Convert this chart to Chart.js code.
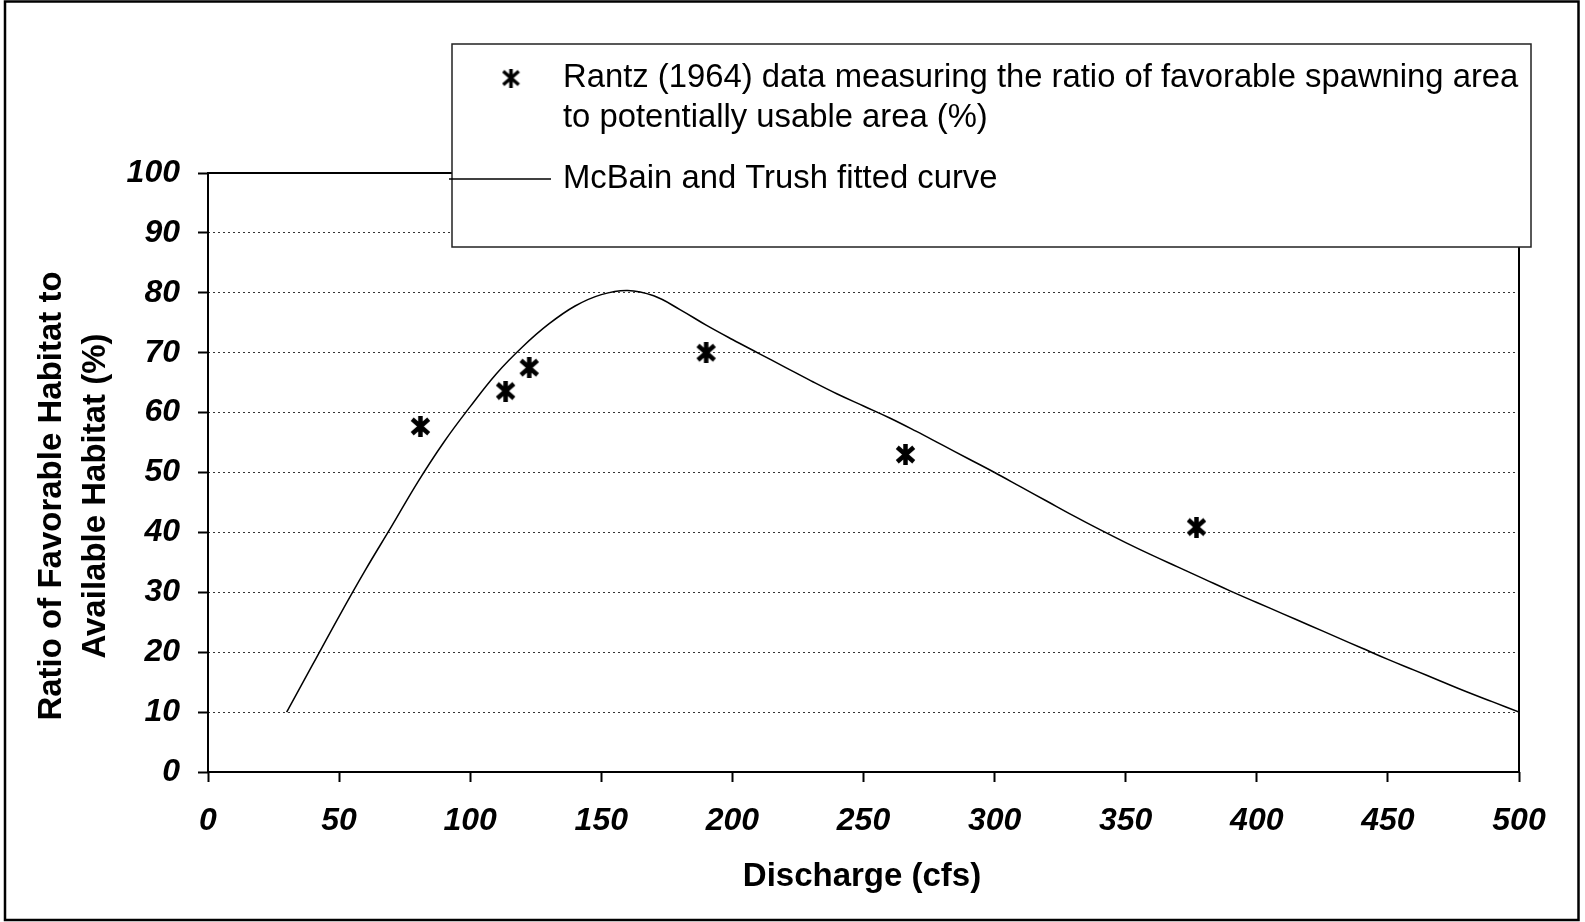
<!DOCTYPE html>
<html>
<head>
<meta charset="utf-8">
<title>Favorable habitat vs discharge</title>
<script src="https://cdn.jsdelivr.net/npm/chart.js@4.4.0/dist/chart.umd.min.js"></script>
<style>
  html, body { margin: 0; padding: 0; background: #fff; }
  #wrap { width: 1585px; height: 922px; }
</style>
</head>
<body>
<div id="wrap"><canvas id="habitatChart" width="1585" height="922"></canvas></div>
<script>
// Rantz (1964) measured points
const rantzDischarge = [81, 113.5, 122.5, 190, 266, 377];
const rantzRatio = [57.7, 63.6, 67.5, 70, 53, 40.9];

// McBain and Trush fitted curve (every 10 cfs)
const curveDischarge = [30, 40, 50, 60, 70, 80, 90, 100, 110, 120, 130, 140, 150, 160, 170, 180, 190, 200, 210, 220, 230, 240, 250, 260, 270, 280, 290, 300, 310, 320, 330, 340, 350, 360, 370, 380, 390, 400, 410, 420, 430, 440, 450, 460, 470, 480, 490, 500];
const curveRatio = [10, 18, 26, 33.7, 41, 48.4, 55.1, 61, 66.5, 71, 74.8, 77.8, 79.7, 80.4, 79.5, 77.2, 74.6, 72.2, 69.9, 67.6, 65.3, 63.1, 61.1, 59.1, 56.9, 54.6, 52.3, 50, 47.6, 45.2, 42.8, 40.5, 38.3, 36.2, 34.2, 32.2, 30.2, 28.3, 26.4, 24.5, 22.6, 20.7, 18.8, 17, 15.2, 13.4, 11.7, 10];

const xTickValues = [0, 50, 100, 150, 200, 250, 300, 350, 400, 450, 500];
const yTickValues = [0, 10, 20, 30, 40, 50, 60, 70, 80, 90, 100];

const xTitle = 'Discharge (cfs)';
const yTitle = ['Ratio of Favorable Habitat to', 'Available Habitat (%)'];
const legendLines = [
    'Rantz (1964) data measuring the ratio of favorable spawning area',
    'to potentially usable area (%)',
    'McBain and Trush fitted curve'
];

const FONT = '"Liberation Sans", Arial, sans-serif';

// asterisk marker: X plus a vertical bar
function makeStar(size, lw) {
    const c = document.createElement('canvas');
    c.width = size; c.height = size;
    const g = c.getContext('2d');
    const m = lw / 2;
    g.strokeStyle = '#000';
    g.lineWidth = lw;
    g.beginPath();
    g.moveTo(size / 2, 0); g.lineTo(size / 2, size);
    g.moveTo(m, m + 1); g.lineTo(size - m, size - m - 1);
    g.moveTo(m, size - m - 1); g.lineTo(size - m, m + 1);
    g.stroke();
    return c;
}
const plotStar = makeStar(21, 4.5);
const legendStar = makeStar(19, 3.5);

const decorations = {
    id: 'decorations',
    beforeDatasetsDraw(chart) {
        const { ctx, chartArea: a } = chart;
        ctx.save();
        ctx.strokeStyle = '#000';
        ctx.lineWidth = 2;
        ctx.strokeRect(a.left, a.top, a.right - a.left, a.bottom - a.top);
        ctx.restore();
    },
    afterDraw(chart) {
        const ctx = chart.ctx;
        ctx.save();

        // axis titles
        ctx.fillStyle = '#000';
        ctx.font = 'bold 33px ' + FONT;
        ctx.textAlign = 'center';
        ctx.textBaseline = 'middle';
        ctx.fillText(xTitle, 862, 877);
        ctx.save();
        ctx.translate(0, 496);
        ctx.rotate(-Math.PI / 2);
        ctx.fillText(yTitle[0], 0, 52);
        ctx.fillText(yTitle[1], 0, 96);
        ctx.restore();

        // legend box
        ctx.fillStyle = '#fff';
        ctx.fillRect(452, 44, 1079, 203);
        ctx.strokeStyle = '#222';
        ctx.lineWidth = 1.5;
        ctx.strokeRect(452, 44, 1079, 203);
        ctx.drawImage(legendStar, 511 - 9.5, 78 - 9.5);
        ctx.beginPath();
        ctx.moveTo(449, 179);
        ctx.lineTo(551, 179);
        ctx.strokeStyle = '#000';
        ctx.lineWidth = 1.5;
        ctx.stroke();
        ctx.fillStyle = '#000';
        ctx.font = '32.8px ' + FONT;
        ctx.textAlign = 'left';
        ctx.fillText(legendLines[0], 563, 78);
        ctx.fillText(legendLines[1], 563, 118);
        ctx.fillText(legendLines[2], 563, 179);

        // outer frame
        ctx.strokeStyle = '#000';
        ctx.lineWidth = 2.5;
        ctx.strokeRect(5, 1.5, 1573.5, 918.5);
        ctx.restore();
    }
};

const tickFont = { family: FONT, size: 32, weight: 'bold', style: 'italic' };

new Chart(document.getElementById('habitatChart'), {
    type: 'scatter',
    data: {
        datasets: [{
            label: legendLines[2],
            data: curveDischarge.map((x, i) => ({ x: x, y: curveRatio[i] })),
            showLine: true,
            borderColor: '#000',
            borderWidth: 1.5,
            pointRadius: 0,
            tension: 0.4,
            order: 2
        }, {
            label: legendLines[0],
            data: rantzDischarge.map((x, i) => ({ x: x, y: rantzRatio[i] })),
            pointStyle: plotStar,
            pointRadius: 11,
            showLine: false,
            order: 1
        }]
    },
    options: {
        responsive: false,
        animation: false,
        devicePixelRatio: 1,
        layout: { padding: { top: 173, right: 66, left: 0, bottom: 0 } },
        plugins: {
            legend: { display: false },
            tooltip: { enabled: false }
        },
        scales: {
            x: {
                type: 'linear',
                min: 0,
                max: 500,
                afterBuildTicks: s => { s.ticks = xTickValues.map(v => ({ value: v })); },
                afterFit: s => { s.height = 150; },
                grid: { drawOnChartArea: false, tickLength: 10, tickColor: '#000', tickWidth: 2 },
                border: { display: false },
                ticks: { font: tickFont, color: '#000', padding: 20, maxRotation: 0, autoSkip: false }
            },
            y: {
                type: 'linear',
                min: 0,
                max: 100,
                afterBuildTicks: s => { s.ticks = yTickValues.map(v => ({ value: v })); },
                afterFit: s => { s.width = 208; },
                grid: {
                    color: c => (c.tick && (c.tick.value === 0 || c.tick.value === 100)) ? 'rgba(0,0,0,0)' : '#333',
                    lineWidth: 1,
                    tickLength: 10,
                    tickColor: '#000',
                    tickWidth: 2
                },
                border: { display: false, dash: [2, 3] },
                ticks: { font: tickFont, color: '#000', padding: 18, autoSkip: false }
            }
        }
    },
    plugins: [decorations]
});
</script>
</body>
</html>
